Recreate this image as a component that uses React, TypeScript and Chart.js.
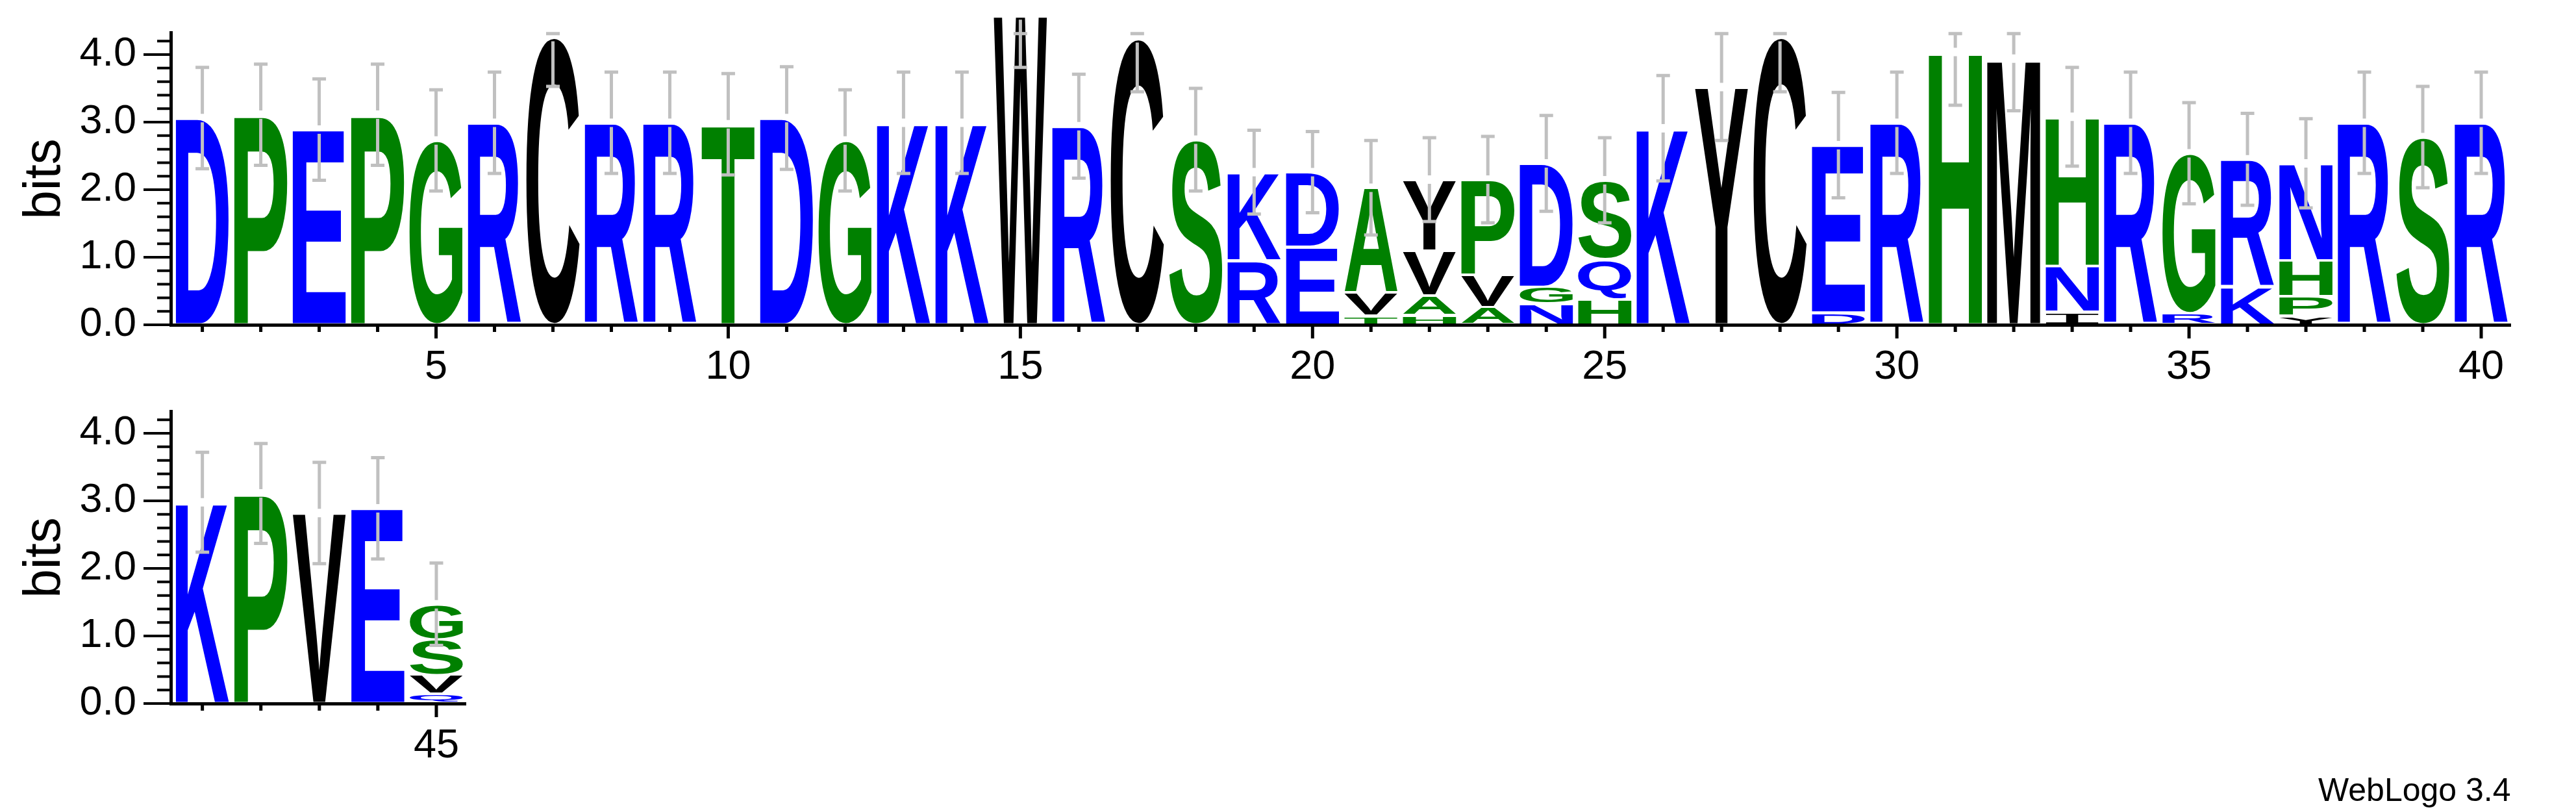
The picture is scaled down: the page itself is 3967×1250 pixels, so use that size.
import React, { useEffect, useRef } from "react";
import { Chart, registerables } from "chart.js";

Chart.register(...registerables);

const positions: number[] = [
  1, 2, 3, 4, 5, 6, 7, 8, 9, 10, 11, 12, 13, 14, 15, 16, 17, 18, 19, 20,
  21, 22, 23, 24, 25, 26, 27, 28, 29, 30, 31, 32, 33, 34, 35, 36, 37, 38, 39, 40,
  41, 42, 43, 44, 45,
];

// letters of each stack, bottom -> top
const letterStacks: string[] = [
  "D", "P", "E", "P", "G", "R", "C", "R", "R", "T",
  "D", "G", "K", "K", "W", "R", "C", "S", "RK", "ED",
  "TVA", "HAVY", "AVP", "NGD", "HQS", "K", "Y", "C", "DE", "R",
  "H", "M", "INH", "R", "RG", "KR", "YPHN", "R", "S", "R",
  "K", "P", "V", "E", "QVSG",
];

// bits of each letter, bottom -> top
const letterBits: number[][] = [
  [3.06], [3.11], [2.89], [3.11], [2.73], [2.99], [4.26], [2.99], [2.99], [2.97],
  [3.06], [2.73], [2.99], [2.99], [4.58], [2.94], [4.24], [2.74], [0.95, 1.31], [1.15, 1.11],
  [0.13, 0.34, 1.56], [0.14, 0.29, 0.67, 1.05], [0.26, 0.48, 1.41], [0.31, 0.25, 1.83], [0.38, 0.59, 1.17],
  [2.91], [3.52], [4.26], [0.18, 2.48], [2.99],
  [4.04], [3.94], [0.19, 0.68, 2.21], [2.99], [0.17, 2.37], [0.56, 1.89], [0.13, 0.29, 0.53, 1.44],
  [2.99], [2.78], [2.99],
  [2.98], [3.11], [2.82], [2.89], [0.14, 0.28, 0.53, 0.52],
];

// half height of the error bar of each stack (bits)
const errorBits: number[] = [
  0.75, 0.75, 0.75, 0.75, 0.75, 0.75, 0.73, 0.75, 0.75, 0.75,
  0.76, 0.75, 0.75, 0.75, 0.77, 0.77, 0.79, 0.76, 0.62, 0.6,
  0.7, 0.62, 0.64, 0.71, 0.63, 0.78, 0.79, 0.81, 0.78, 0.75,
  0.79, 0.77, 0.73, 0.75, 0.75, 0.68, 0.66, 0.75, 0.75, 0.75,
  0.74, 0.74, 0.75, 0.75, 0.61,
];

const yMaxBits = 4.32;
const hydrophilicLetters = "RKDENQ";
const neutralLetters = "SGHTAP";
const BLUE = "#0000FF";
const GREEN = "#008000";
const BLACK = "#000000";
const ERR_GREY = "#C0C0C0";
const FONT = '"Liberation Sans", Arial, Helvetica, sans-serif';

function colorFor(ch: string): string {
  if (hydrophilicLetters.includes(ch)) return BLUE;
  if (neutralLetters.includes(ch)) return GREEN;
  return BLACK;
}

function drawGlyph(ctx: CanvasRenderingContext2D, ch: string, x: number, y: number, w: number, h: number) {
  if (h <= 0.5 || w <= 0.5) return;
  ctx.save();
  ctx.font = ch === "I" ? '200px "Liberation Mono", monospace' : `bold 200px ${FONT}`;
  ctx.textAlign = "left";
  ctx.textBaseline = "alphabetic";
  const m = ctx.measureText(ch);
  const gw = m.actualBoundingBoxLeft + m.actualBoundingBoxRight;
  const gh = m.actualBoundingBoxAscent + m.actualBoundingBoxDescent;
  ctx.translate(x, y);
  ctx.scale(w / gw, h / gh);
  ctx.fillStyle = colorFor(ch);
  ctx.fillText(ch, m.actualBoundingBoxLeft, m.actualBoundingBoxAscent);
  ctx.restore();
}

const logoPlugin = {
  id: "logoGlyphs",
  afterDatasetsDraw(chart: any) {
    const ctx: CanvasRenderingContext2D = chart.ctx;
    const xs = chart.scales.x;
    const ys = chart.scales.y;
    const area = chart.chartArea;

    // letters
    chart.data.datasets.forEach((ds: any, di: number) => {
      const meta = chart.getDatasetMeta(di);
      meta.data.forEach((el: any, i: number) => {
        const p = el.getProps(["x", "y", "base", "width"], true);
        const top = Math.min(p.y, p.base);
        const h = Math.abs(p.base - p.y);
        drawGlyph(ctx, ds.letters[i], p.x - p.width / 2, top + 2, p.width, h - 4);
      });
    });

    // error bars
    const idx: number[] = chart.options.plugins.logoGlyphs.indices;
    ctx.save();
    ctx.strokeStyle = ERR_GREY;
    ctx.lineWidth = 5;
    idx.forEach((i) => {
      const total = letterBits[i].reduce((a, b) => a + b, 0);
      const e = errorBits[i];
      const px = xs.getPixelForValue(positions[i]);
      const pTop = ys.getPixelForValue(total);
      const pHi = ys.getPixelForValue(Math.min(total + e, yMaxBits - 0.01));
      const pLo = ys.getPixelForValue(Math.max(total - e, 0));
      const gap = 6.5;
      ctx.beginPath();
      if (pHi < pTop - gap) {
        ctx.moveTo(px, pHi);
        ctx.lineTo(px, pTop - gap);
      }
      if (pLo > pTop + gap) {
        ctx.moveTo(px, pTop + gap);
        ctx.lineTo(px, pLo);
      }
      ctx.stroke();
      ctx.beginPath();
      ctx.moveTo(px - 10.5, pHi);
      ctx.lineTo(px + 10.5, pHi);
      ctx.moveTo(px - 10.5, pLo);
      ctx.lineTo(px + 10.5, pLo);
      ctx.stroke();
    });
    ctx.restore();

    // tick marks (major / minor) on the library's scales
    ctx.save();
    ctx.strokeStyle = BLACK;
    ctx.lineWidth = 4;
    ctx.beginPath();
    ys.ticks.forEach((t: any) => {
      const py = ys.getPixelForValue(t.value);
      const major = Math.abs(t.value - Math.round(t.value)) < 1e-6;
      ctx.moveTo(area.left, py);
      ctx.lineTo(area.left - (major ? 42 : 21), py);
    });
    ctx.stroke();
    ctx.lineWidth = 5;
    ctx.beginPath();
    xs.ticks.forEach((t: any) => {
      const px = xs.getPixelForValue(t.value);
      const major = Math.round(t.value) % 5 === 0;
      ctx.moveTo(px, area.bottom);
      ctx.lineTo(px, area.bottom + (major ? 21 : 11));
    });
    ctx.stroke();
    ctx.restore();
  },
};

function buildConfig(first: number, last: number, rightPad: number): any {
  const indices = positions.map((_, i) => i).filter((i) => positions[i] >= first && positions[i] <= last);
  const maxLayers = Math.max(...indices.map((i) => letterStacks[i].length));
  const datasets: any[] = [];
  for (let k = 0; k < maxLayers; k++) {
    const pts = indices.filter((i) => letterStacks[i].length > k);
    datasets.push({
      label: `layer ${k + 1}`,
      data: pts.map((i) => ({ x: positions[i], y: letterBits[i][k] })),
      letters: pts.map((i) => letterStacks[i][k]),
      backgroundColor: "rgba(0,0,0,0)",
      borderWidth: 0,
      barPercentage: 0.91,
      categoryPercentage: 1,
      clip: false,
    });
  }
  const transparent = "rgba(0,0,0,0)";
  return {
    type: "bar",
    data: { datasets },
    plugins: [logoPlugin],
    options: {
      responsive: false,
      animation: false,
      devicePixelRatio: 1,
      events: [],
      layout: { padding: { left: 0, top: 48, right: rightPad, bottom: 0 } },
      plugins: {
        legend: { display: false },
        tooltip: { enabled: false },
        logoGlyphs: { indices },
      },
      scales: {
        x: {
          type: "linear",
          min: first - 0.54,
          max: last + 0.5,
          stacked: true,
          offset: false,
          afterFit: (s: any) => {
            s.height = 120;
          },
          grid: { display: true, offset: false, drawOnChartArea: false, drawTicks: true, tickLength: 20, tickColor: transparent },
          border: { display: true, color: BLACK, width: 5 },
          ticks: {
            stepSize: 1,
            includeBounds: false,
            autoSkip: false,
            maxRotation: 0,
            minRotation: 0,
            padding: 8,
            color: BLACK,
            font: { family: FONT, size: 63 },
            callback: (v: number) => (Math.round(v) % 5 === 0 ? String(Math.round(v)) : ""),
          },
        },
        y: {
          type: "linear",
          min: 0,
          max: yMaxBits,
          stacked: true,
          afterFit: (s: any) => {
            s.width = 263;
          },
          grid: { display: true, drawOnChartArea: false, drawTicks: true, tickLength: 40, tickColor: transparent },
          border: { display: true, color: BLACK, width: 5 },
          ticks: {
            stepSize: 0.2,
            includeBounds: false,
            autoSkip: false,
            padding: 13,
            color: BLACK,
            font: { family: FONT, size: 63 },
            callback: (v: number) => (Math.abs(v - Math.round(v)) < 1e-6 ? v.toFixed(1) : ""),
          },
          title: {
            display: true,
            text: "bits",
            color: BLACK,
            font: { family: FONT, size: 80 },
            padding: { top: 22, bottom: 0 },
          },
        },
      },
    },
  };
}

function LogoPanel(props: { first: number; last: number; top: number; width: number; rightPad: number }) {
  const ref = useRef<HTMLCanvasElement | null>(null);
  useEffect(() => {
    if (!ref.current) return;
    const chart = new Chart(ref.current, buildConfig(props.first, props.last, props.rightPad));
    return () => chart.destroy();
  }, [props.first, props.last, props.rightPad]);
  return (
    <canvas
      ref={ref}
      width={props.width}
      height={620}
      style={{ position: "absolute", left: 0, top: props.top, width: props.width, height: 620 }}
    />
  );
}

export default function App() {
  return (
    <div
      style={{
        position: "absolute",
        left: 0,
        top: 0,
        width: 3967,
        height: 1250,
        background: "#FFFFFF",
        overflow: "hidden",
      }}
    >
      <LogoPanel first={1} last={40} top={0} width={3967} rightPad={101} />
      <LogoPanel first={41} last={45} top={583} width={900} rightPad={183} />
      <div
        style={{
          position: "absolute",
          left: 3570,
          top: 1191,
          fontFamily: FONT,
          fontSize: 50,
          lineHeight: "50px",
          color: "#000",
          whiteSpace: "nowrap",
        }}
      >
        WebLogo 3.4
      </div>
    </div>
  );
}
